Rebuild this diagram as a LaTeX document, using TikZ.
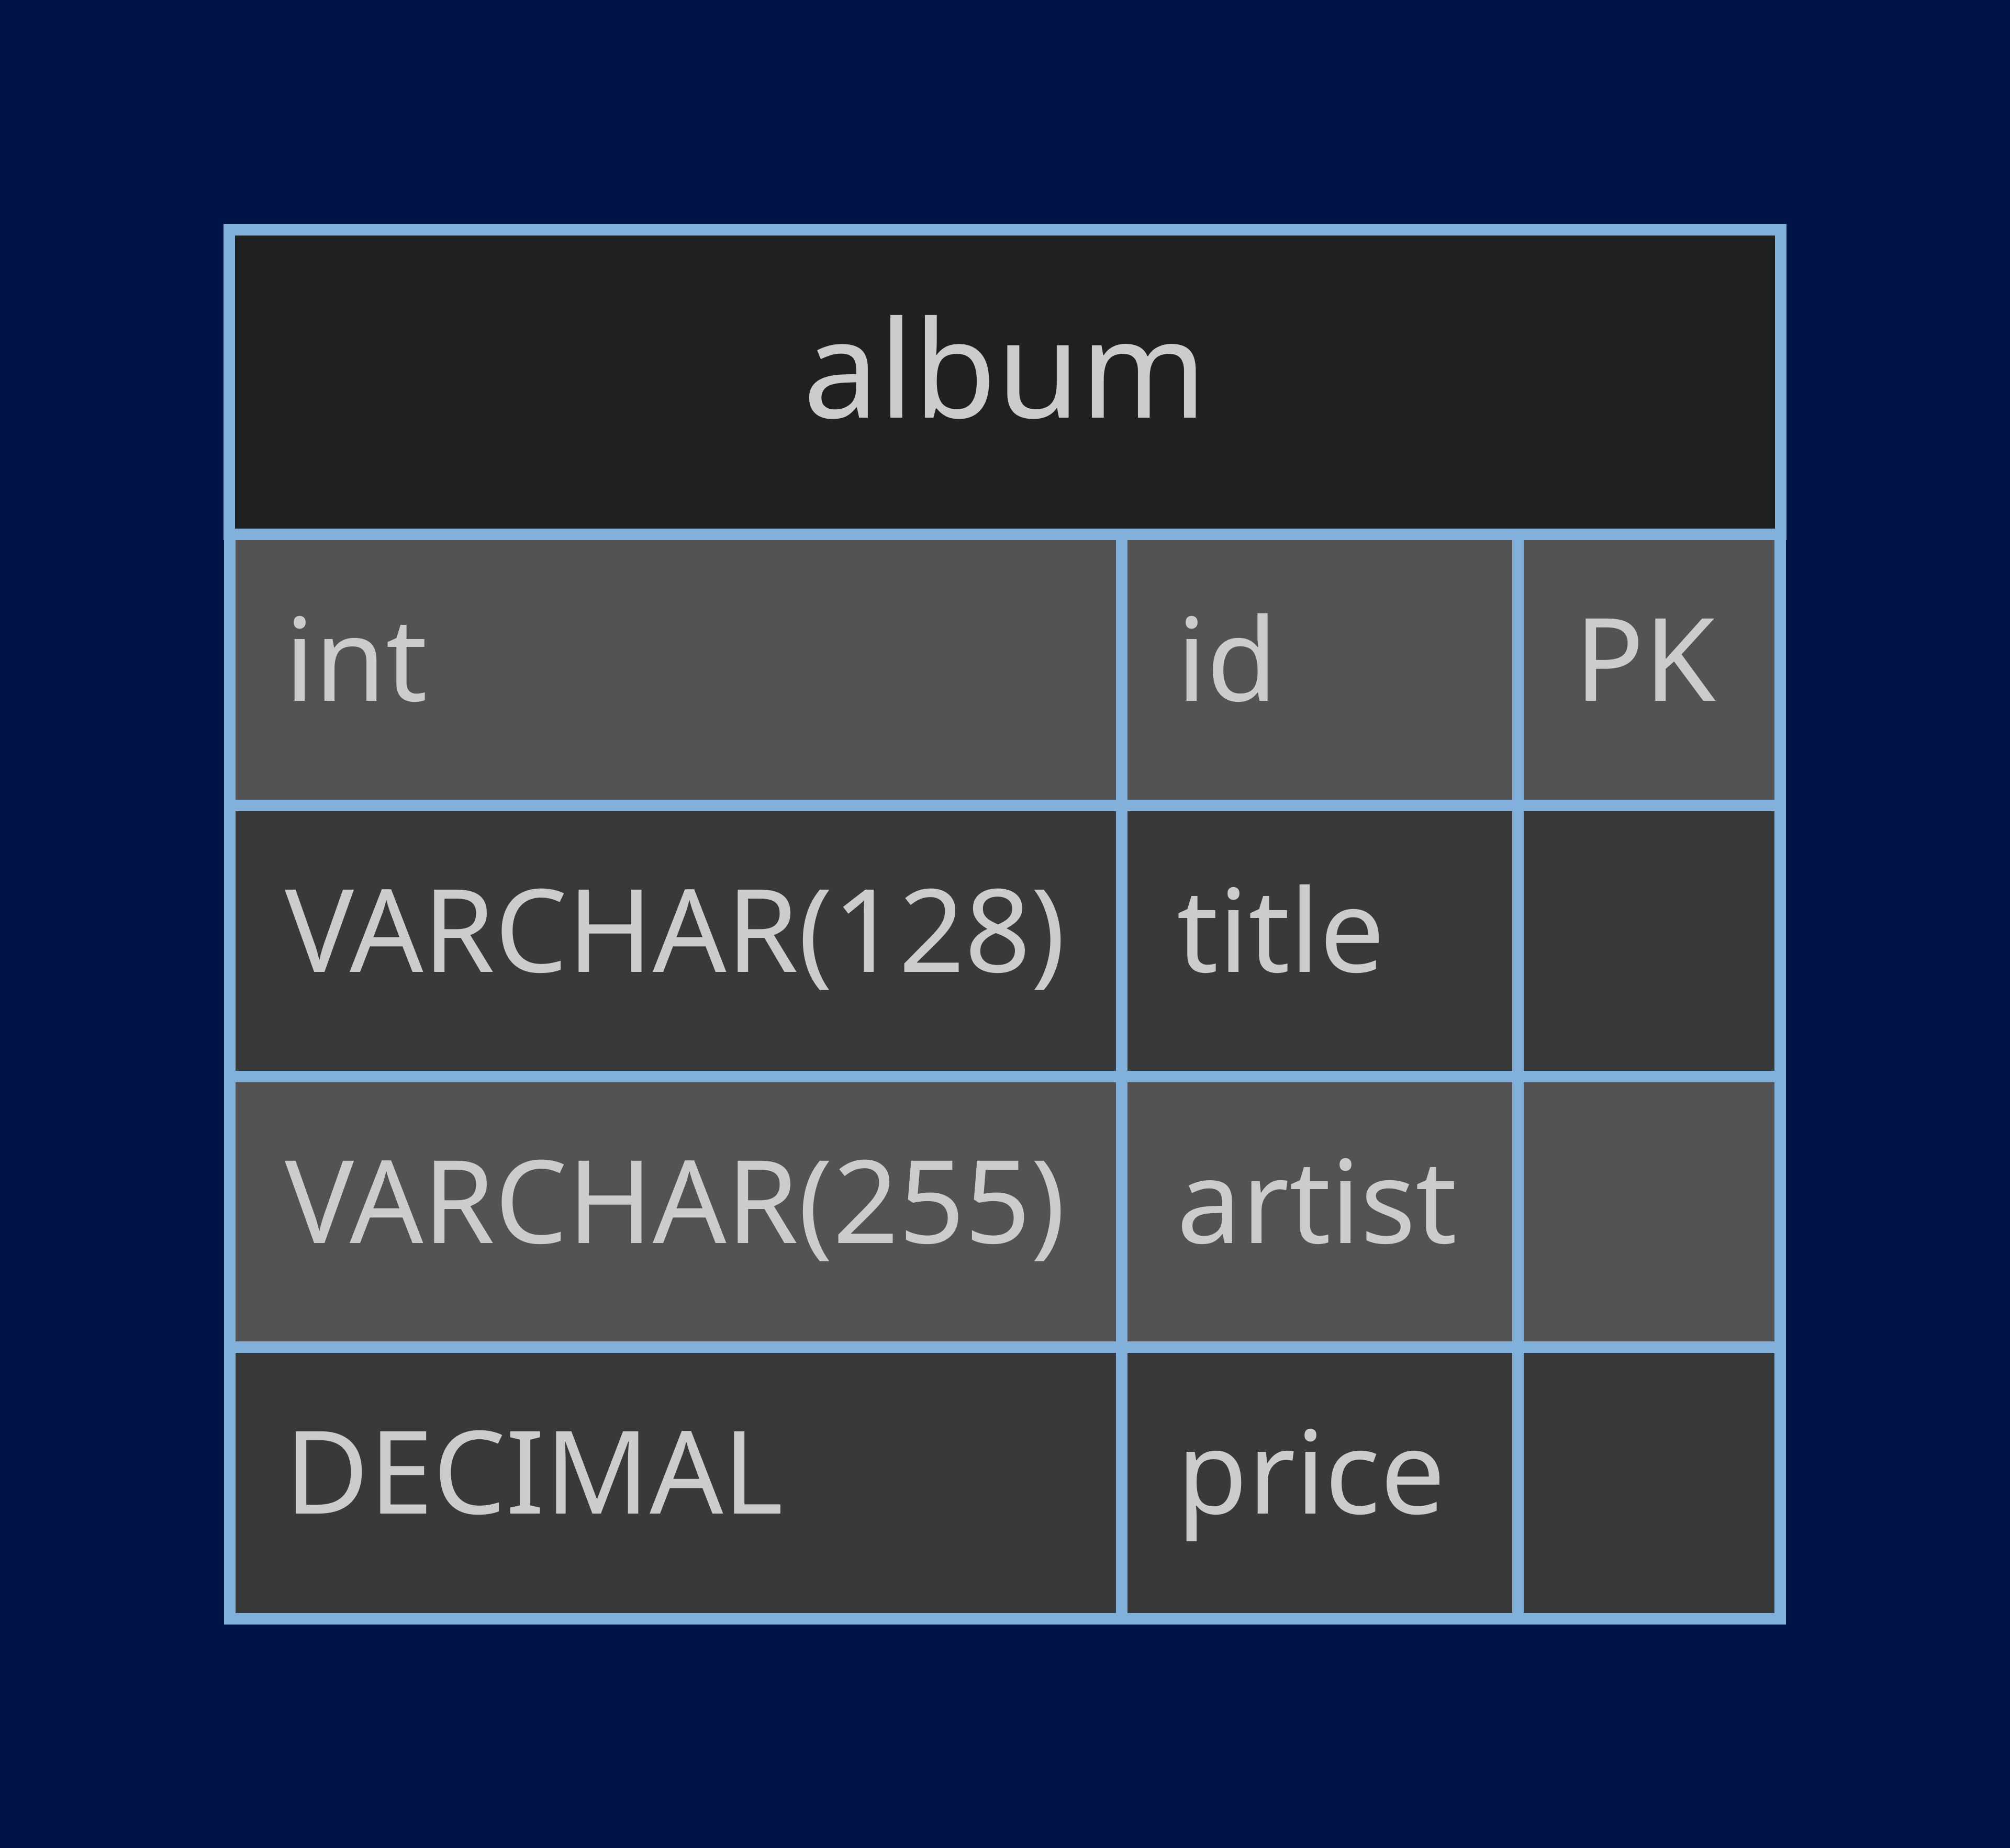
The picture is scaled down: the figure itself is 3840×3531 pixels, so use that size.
\documentclass[tikz,border=0pt]{standalone}
\usepackage{fontspec}
\setmainfont{Noto Sans}
\usepackage{xcolor}
\usepackage{tikz}
\usetikzlibrary{positioning}
\definecolor{pagebg}{HTML}{001346}
\definecolor{edge}{HTML}{81B1DB}
\definecolor{hdrfill}{HTML}{1F2020}
\definecolor{rowodd}{HTML}{535353}
\definecolor{roweven}{HTML}{393939}
\definecolor{txt}{HTML}{CCCCCC}
\tikzset{
  cell/.style={rectangle, draw=edge, line width=2.2mm, inner sep=0pt, outer sep=0pt},
  hdrcell/.style={cell, fill=hdrfill, minimum width=29.62cm, minimum height=5.82cm},
  odd/.style={cell, fill=rowodd, minimum height=5.18cm},
  even/.style={cell, fill=roweven, minimum height=5.18cm},
  typecol/.style={minimum width=17.04cm},
  namecol/.style={minimum width=7.57cm},
  keycol/.style={minimum width=5.01cm},
  fld/.style={anchor=base west, inner sep=0pt, text=txt, font=\fontsize{62.6}{75}\selectfont},
  ttl/.style={anchor=base, inner sep=0pt, text=txt, font=\fontsize{73.4}{88}\selectfont},
}

\begin{document}
\begin{tikzpicture}[x=0.01cm, y=-0.01cm]
\fill[pagebg] (0,0) rectangle (3840,3531);
% entity header
\node[hdrcell] (head) at (1920,730) {};
\node[ttl] (name) at (1920,799) {album};
% attribute cells
\node[odd,typecol] (t1) at (1291,1280) {};
\node[odd,namecol] (n1) at (2521.5,1280) {};
\node[odd,keycol] (k1) at (3150.5,1280) {};
\node[even,typecol] (t2) at (1291,1798) {};
\node[even,namecol] (n2) at (2521.5,1798) {};
\node[even,keycol] (k2) at (3150.5,1798) {};
\node[odd,typecol] (t3) at (1291,2316) {};
\node[odd,namecol] (n3) at (2521.5,2316) {};
\node[odd,keycol] (k3) at (3150.5,2316) {};
\node[even,typecol] (t4) at (1291,2833.5) {};
\node[even,namecol] (n4) at (2521.5,2833.5) {};
\node[even,keycol] (k4) at (3150.5,2833.5) {};
% attribute texts
\node[fld] (t1txt) at (544,1339) {int};
\node[fld] (n1txt) at (2248,1339) {id};
\node[fld] (k1txt) at (3008,1339) {PK};
\node[fld] (t2txt) at (544,1857) {VARCHAR(128)};
\node[fld] (n2txt) at (2248,1857) {title};
\node[fld] (t3txt) at (544,2375) {VARCHAR(255)};
\node[fld] (n3txt) at (2248,2375) {artist};
\node[fld] (t4txt) at (544,2892) {DECIMAL};
\node[fld] (n4txt) at (2248,2892) {price};
\end{tikzpicture}
\end{document}
